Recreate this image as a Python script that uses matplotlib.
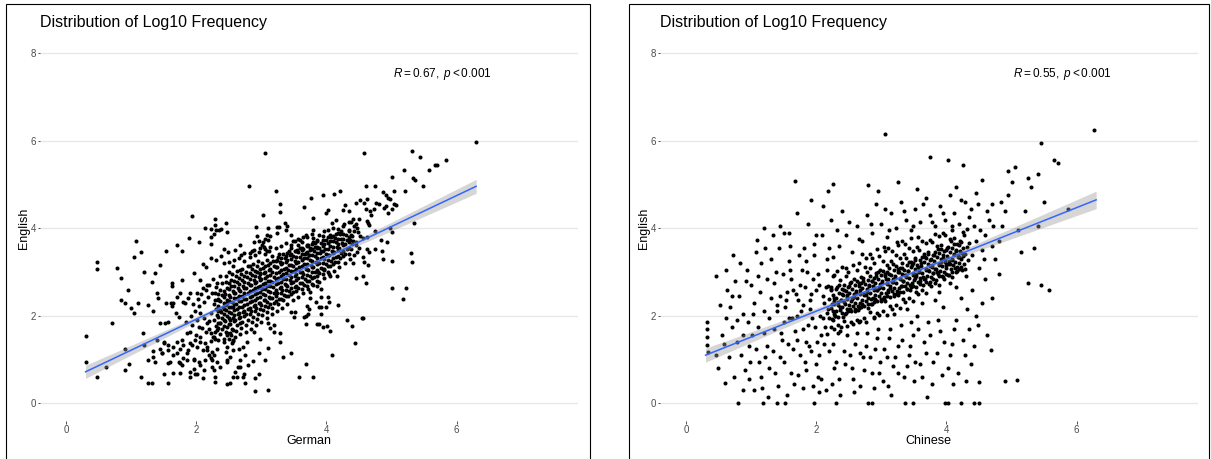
import numpy as np
import matplotlib.pyplot as plt
from matplotlib.patches import Rectangle

plt.rcParams['font.family'] = ['Liberation Sans', 'DejaVu Sans']
plt.rcParams['mathtext.fontset'] = 'custom'
plt.rcParams['mathtext.rm'] = 'Liberation Sans'
plt.rcParams['mathtext.it'] = 'Liberation Sans:italic'

# ---- German vs English (log10 frequency) ----
de_outer = [
    (1.93, 4.27), (2.29, 4.22), (2.14, 4.01), (2.23, 3.98), (2.30, 3.96), (2.29, 4.07), (2.35, 3.97),
    (2.22, 3.81), (2.28, 3.87), (1.89, 3.77), (2.04, 3.69), (2.23, 3.65), (1.08, 3.72), (1.15, 3.46),
    (1.04, 3.35), (1.70, 3.61), (1.78, 3.48), (1.53, 3.49), (1.45, 3.17), (2.11, 3.19), (2.15, 3.11),
    (2.23, 3.31), (2.31, 3.27), (0.48, 3.23), (0.48, 3.07), (0.78, 3.09), (0.85, 2.86), (0.95, 2.59),
    (0.84, 2.36), (0.91, 2.29), (1.00, 2.17), (1.04, 2.07), (1.11, 2.29), (1.20, 2.99), (1.32, 2.77),
    (1.37, 2.98), (1.26, 2.25), (1.33, 2.12), (1.40, 2.52), (1.42, 2.40), (1.53, 2.30), (1.63, 2.76),
    (1.65, 2.30), (1.78, 2.82), (1.80, 2.32), (1.69, 2.06), (1.74, 1.98), (1.97, 2.97), (1.61, 2.29),
    (1.63, 2.22), (1.63, 2.68), (1.75, 2.52), (1.71, 2.42), (1.83, 2.29), (1.88, 2.40), (1.91, 2.52),
    (2.06, 2.82), (2.10, 2.63), (2.01, 2.52), (2.16, 2.71), (2.24, 2.52), (2.32, 2.74), (2.37, 2.90),
    (2.29, 2.36), (2.42, 3.20), (2.50, 3.01), (2.57, 3.13), (2.68, 3.05), (2.83, 3.13), (2.98, 2.97),
    (2.88, 3.51), (3.04, 3.58), (3.14, 3.82), (2.93, 3.82), (3.09, 3.47), (3.24, 3.28), (3.40, 3.43),
    (3.55, 3.51), (3.70, 3.62), (3.80, 3.78), (3.68, 3.85), (3.86, 3.55), (3.24, 3.89), (3.40, 4.06),
    (3.06, 5.71), (2.81, 4.96), (3.22, 4.86), (3.28, 4.55), (3.28, 4.38), (3.02, 4.30), (3.77, 4.70),
    (3.94, 4.75), (4.11, 4.79), (4.21, 4.85), (3.66, 4.48), (4.28, 4.54), (4.02, 4.42), (4.00, 4.34),
    (3.80, 4.23), (4.25, 4.42), (4.34, 4.39), (4.15, 4.20), (4.09, 4.13), (4.27, 4.10), (4.34, 4.14),
    (2.45, 4.11), (2.38, 3.99), (2.48, 3.91), (2.92, 4.03), (3.10, 4.01), (3.24, 4.04), (3.27, 4.04),
    (3.36, 4.13), (3.38, 3.95), (3.79, 3.97), (3.46, 3.85), (3.60, 3.74), (3.64, 3.80), (3.89, 3.84),
    (3.96, 3.93), (4.06, 3.85), (4.15, 3.88), (4.22, 3.93), (3.09, 3.85), (3.06, 3.76), (3.03, 3.68),
    (3.10, 3.74), (2.88, 3.69), (2.97, 3.72), (2.98, 3.56), (3.01, 3.62), (2.68, 3.61), (2.60, 3.51),
    (2.42, 3.53), (2.49, 3.45), (2.86, 3.49), (2.83, 3.44), (2.69, 3.39), (2.73, 3.43), (2.38, 3.36),
    (3.12, 3.49), (3.05, 3.41), (3.27, 3.42), (3.45, 3.62), (3.46, 3.55), (3.42, 3.49), (3.52, 3.70),
    (3.57, 3.62), (3.63, 3.51), (3.75, 3.55), (3.68, 3.43), (3.73, 3.39), (3.83, 3.66), (3.91, 3.47),
    (6.30, 5.98), (4.58, 5.71), (5.32, 5.76), (5.44, 5.64), (5.83, 5.57), (5.67, 5.45), (5.70, 5.45),
    (5.58, 5.33), (5.19, 5.34), (5.01, 5.18), (5.33, 5.14), (5.36, 5.11), (5.48, 4.96), (4.61, 4.97),
    (4.74, 4.97), (4.87, 4.84), (5.04, 4.85), (5.21, 4.85), (4.92, 4.75), (4.95, 4.69), (4.98, 4.67),
    (4.52, 4.65), (4.57, 4.58), (4.63, 4.67), (4.46, 4.58), (4.76, 4.58), (4.80, 4.56), (4.61, 4.44),
    (4.67, 4.40), (4.68, 4.31), (4.73, 4.45), (4.88, 4.46), (4.92, 4.50), (5.04, 4.55), (5.07, 4.54),
    (5.00, 4.44), (4.95, 4.34), (4.38, 4.14), (4.46, 4.10), (4.41, 4.21), (4.50, 4.21), (4.47, 4.01),
    (4.62, 4.17), (4.64, 4.12), (4.66, 4.08), (4.42, 3.93), (4.38, 3.85), (4.52, 3.82), (4.56, 3.78),
    (4.63, 3.79), (4.74, 3.93), (4.98, 4.01), (5.01, 3.92), (5.34, 4.13), (4.84, 3.74), (4.93, 3.68),
    (4.41, 3.72), (4.46, 3.69), (4.63, 3.53), (4.65, 3.46), (4.75, 3.53), (4.86, 3.49), (4.41, 3.20),
    (4.56, 3.34), (4.57, 3.24), (4.64, 3.16), (4.87, 3.30), (5.01, 3.26), (5.30, 3.43), (5.31, 3.23),
    (4.45, 2.87), (4.56, 2.91), (4.61, 2.75), (5.00, 2.64), (5.23, 2.64), (5.18, 2.39), (4.56, 1.95),
    (4.40, 1.77), (4.44, 1.37), (3.79, 0.59), (3.69, 0.89), (4.09, 1.11), (4.05, 1.65), (4.01, 1.77),
    (3.94, 1.74), (3.88, 1.81), (3.68, 1.81), (4.31, 1.90), (4.55, 1.96), (3.69, 2.00), (3.71, 2.03),
    (3.92, 2.05), (3.88, 2.19), (4.00, 2.19), (4.04, 2.32), (4.18, 2.24), (3.84, 2.32), (3.70, 2.23),
    (3.58, 0.59), (3.10, 0.30), (2.90, 0.28), (2.75, 0.47), (2.52, 0.47), (2.63, 0.59), (2.73, 0.68),
    (2.72, 0.60), (2.96, 0.68), (2.90, 0.57), (2.80, 0.87), (2.87, 0.97), (3.05, 0.99), (2.48, 1.00),
    (2.47, 0.95), (2.64, 0.82), (2.96, 1.14), (2.75, 1.10), (3.10, 1.27), (3.34, 1.06), (3.46, 1.14),
    (3.28, 1.41), (3.19, 1.64), (3.28, 1.61), (3.14, 1.71), (3.20, 1.79), (3.11, 1.83), (2.98, 1.47),
    (2.88, 1.64), (2.78, 1.41), (2.65, 1.25), (2.72, 1.29), (2.45, 1.18), (2.55, 1.37), (2.57, 1.43),
    (2.42, 1.48), (2.47, 1.56), (2.52, 1.60), (3.86, 1.81), (3.65, 1.98), (3.50, 1.98), (3.45, 2.09),
    (3.52, 2.09), (3.73, 2.15), (3.91, 2.19), (4.02, 2.44), (3.91, 2.44), (3.74, 2.40), (3.75, 2.55),
    (3.86, 2.67), (3.91, 2.61), (4.06, 2.91), (4.16, 2.91), (3.87, 2.99), (3.96, 3.05),
    (0.30, 1.54), (0.30, 0.95), (0.48, 0.59), (0.61, 0.83), (0.70, 1.84), (0.91, 1.25), (0.91, 0.77),
    (0.96, 0.89), (1.18, 1.61), (1.15, 0.59), (1.26, 0.47), (1.32, 0.47), (1.20, 1.33), (1.40, 1.44),
    (1.26, 0.99), (1.34, 1.05), (1.37, 0.95), (1.33, 1.20), (1.50, 1.41), (1.56, 1.33), (1.45, 1.23),
    (1.47, 1.15), (1.51, 0.68), (1.57, 0.47), (1.64, 0.70), (1.75, 0.70), (1.91, 0.59), (1.98, 0.68),
    (1.97, 0.79), (2.12, 0.77), (2.29, 0.59), (2.24, 0.83), (1.57, 0.92), (1.73, 0.95), (1.78, 0.87),
    (1.86, 0.99), (1.96, 1.02), (2.04, 0.95), (2.14, 1.00), (2.19, 1.10), (2.24, 0.99), (1.70, 1.14),
    (1.75, 1.23), (1.80, 1.33), (1.88, 1.22), (1.93, 1.33), (2.01, 1.29), (1.98, 1.44), (2.06, 1.41),
    (2.11, 1.22), (2.16, 1.29), (2.24, 1.18), (2.32, 1.25), (2.22, 1.43), (2.29, 1.48), (1.45, 1.84),
    (1.52, 1.84), (1.57, 1.86), (1.50, 1.37), (1.48, 1.14), (1.57, 1.22), (1.65, 1.29), (1.70, 1.41),
    (1.65, 1.10), (1.60, 0.95), (1.75, 0.91), (1.80, 1.03), (1.86, 1.14), (1.91, 1.37), (1.78, 1.44),
    (1.86, 1.60), (1.93, 1.79), (2.01, 1.90), (2.09, 1.71), (2.06, 1.52), (2.14, 1.37), (2.16, 1.22),
    (2.27, 1.10), (2.22, 1.03), (2.32, 0.95), (2.37, 0.83), (2.27, 0.76), (2.06, 0.87), (1.96, 0.99),
    (1.91, 0.72), (2.01, 0.68), (2.11, 0.57), (2.29, 0.49), (2.47, 0.45), (2.57, 0.60), (2.60, 0.72),
    (2.68, 0.83), (2.68, 0.99), (2.52, 1.06), (2.57, 1.22), (2.47, 1.29), (2.57, 1.44), (2.47, 1.60),
    (2.57, 1.67), (2.68, 1.83), (2.52, 1.90), (2.37, 1.83), (2.32, 1.67), (2.27, 1.52), (2.22, 1.60),
    (2.16, 1.83), (2.06, 2.06), (2.22, 2.06), (2.37, 2.13), (2.47, 2.29), (2.57, 2.21),
]
de_core = [
    (2.29, 1.64), (2.31, 1.77), (2.28, 1.90), (2.32, 2.02), (2.30, 2.15), (2.27, 2.27), (2.33, 2.38), (2.29, 2.52), (2.31, 2.66),
    (2.37, 1.58), (2.39, 1.70), (2.36, 1.83), (2.40, 1.96), (2.38, 2.09), (2.41, 2.21), (2.37, 2.34), (2.39, 2.47), (2.36, 2.60), (2.40, 2.74),
    (2.45, 1.62), (2.47, 1.75), (2.44, 1.88), (2.48, 2.00), (2.46, 2.13), (2.45, 2.25), (2.47, 2.37), (2.44, 2.50), (2.48, 2.63), (2.46, 2.78), (2.45, 2.90),
    (2.53, 1.57), (2.55, 1.69), (2.52, 1.82), (2.56, 1.94), (2.54, 2.06), (2.53, 2.19), (2.55, 2.31), (2.52, 2.44), (2.56, 2.56), (2.54, 2.69), (2.53, 2.82), (2.55, 2.96),
    (2.61, 1.66), (2.63, 1.79), (2.60, 1.91), (2.64, 2.03), (2.62, 2.15), (2.61, 2.27), (2.63, 2.40), (2.60, 2.52), (2.64, 2.64), (2.62, 2.77), (2.61, 2.90), (2.63, 3.02),
    (2.69, 1.72), (2.71, 1.85), (2.68, 1.97), (2.72, 2.09), (2.70, 2.21), (2.69, 2.33), (2.71, 2.45), (2.68, 2.57), (2.72, 2.69), (2.70, 2.82), (2.69, 2.95), (2.71, 3.08),
    (2.77, 1.78), (2.79, 1.91), (2.76, 2.03), (2.80, 2.15), (2.78, 2.27), (2.77, 2.39), (2.79, 2.51), (2.76, 2.63), (2.80, 2.75), (2.78, 2.88), (2.77, 3.01), (2.79, 3.13),
    (2.85, 1.86), (2.87, 1.98), (2.84, 2.10), (2.88, 2.22), (2.86, 2.34), (2.85, 2.46), (2.87, 2.58), (2.84, 2.70), (2.88, 2.82), (2.86, 2.94), (2.85, 3.07), (2.87, 3.19),
    (2.93, 1.93), (2.95, 2.05), (2.92, 2.17), (2.96, 2.29), (2.94, 2.41), (2.93, 2.53), (2.95, 2.65), (2.92, 2.77), (2.96, 2.89), (2.94, 3.01), (2.93, 3.13), (2.95, 3.25),
    (3.01, 2.01), (3.03, 2.13), (3.00, 2.25), (3.04, 2.37), (3.02, 2.49), (3.01, 2.61), (3.03, 2.73), (3.00, 2.85), (3.04, 2.97), (3.02, 3.09), (3.01, 3.21),
    (3.09, 2.08), (3.11, 2.20), (3.08, 2.32), (3.12, 2.44), (3.10, 2.56), (3.09, 2.68), (3.11, 2.80), (3.08, 2.92), (3.12, 3.04), (3.10, 3.16), (3.09, 3.28),
    (3.17, 2.17), (3.19, 2.29), (3.16, 2.41), (3.20, 2.53), (3.18, 2.65), (3.17, 2.77), (3.19, 2.89), (3.16, 3.01), (3.20, 3.13), (3.18, 3.25), (3.17, 3.36),
    (3.25, 2.27), (3.27, 2.39), (3.24, 2.51), (3.28, 2.63), (3.26, 2.75), (3.25, 2.87), (3.27, 2.99), (3.24, 3.11), (3.28, 3.22), (3.26, 3.34),
    (3.33, 2.36), (3.35, 2.48), (3.32, 2.60), (3.36, 2.72), (3.34, 2.84), (3.33, 2.96), (3.35, 3.08), (3.32, 3.20), (3.36, 3.31), (3.34, 3.42),
    (3.41, 2.45), (3.43, 2.57), (3.40, 2.69), (3.44, 2.81), (3.42, 2.93), (3.41, 3.05), (3.43, 3.17), (3.40, 3.28), (3.44, 3.39),
    (3.49, 2.54), (3.51, 2.66), (3.48, 2.78), (3.52, 2.90), (3.50, 3.02), (3.49, 3.14), (3.51, 3.26), (3.48, 3.37), (3.52, 3.48),
    (3.57, 2.63), (3.59, 2.75), (3.56, 2.87), (3.60, 2.99), (3.58, 3.11), (3.57, 3.23), (3.59, 3.34), (3.56, 3.45), (3.60, 3.55),
    (3.65, 2.71), (3.67, 2.83), (3.64, 2.95), (3.68, 3.07), (3.66, 3.19), (3.65, 3.31), (3.67, 3.42), (3.64, 3.53),
    (3.73, 2.80), (3.75, 2.92), (3.72, 3.04), (3.76, 3.16), (3.74, 3.28), (3.73, 3.39), (3.75, 3.50), (3.72, 3.61),
    (3.81, 2.88), (3.83, 3.00), (3.80, 3.12), (3.84, 3.24), (3.82, 3.36), (3.81, 3.47), (3.83, 3.58), (3.80, 3.68),
    (3.89, 2.97), (3.91, 3.09), (3.88, 3.21), (3.92, 3.33), (3.90, 3.44), (3.89, 3.55), (3.91, 3.66),
    (3.97, 3.06), (3.99, 3.18), (3.96, 3.30), (4.00, 3.41), (3.98, 3.52), (3.97, 3.63), (3.99, 3.74),
    (4.05, 3.14), (4.07, 3.26), (4.04, 3.38), (4.08, 3.49), (4.06, 3.60), (4.05, 3.71), (4.07, 3.81),
    (4.13, 3.23), (4.15, 3.35), (4.12, 3.46), (4.16, 3.57), (4.14, 3.68), (4.13, 3.78),
    (4.21, 3.33), (4.23, 3.44), (4.20, 3.55), (4.24, 3.66), (4.22, 3.76), (4.21, 3.86),
    (4.29, 3.42), (4.31, 3.53), (4.28, 3.64), (4.32, 3.74), (4.30, 3.84),
    (4.37, 3.52), (4.39, 3.63), (4.36, 3.73), (4.40, 3.83),
    (2.50, 3.22), (2.58, 3.28), (2.66, 3.33), (2.74, 3.26), (2.82, 3.35), (2.90, 3.40), (2.97, 3.45),
    (3.05, 3.52), (3.14, 3.58), (3.22, 3.55), (3.30, 3.60), (3.38, 3.66), (3.48, 3.70), (3.56, 3.76),
    (3.62, 3.69), (3.70, 3.80), (3.78, 3.86), (3.86, 3.74), (3.94, 3.83), (4.02, 3.95), (4.10, 4.00),
    (4.18, 3.98), (4.26, 4.05), (4.35, 3.96), (4.42, 4.05), (4.48, 3.92), (4.45, 3.62), (4.50, 3.55),
    (4.47, 3.45), (2.20, 1.70), (2.26, 1.52), (2.34, 1.45), (2.42, 1.40), (2.50, 1.47), (2.60, 1.52),
    (2.68, 1.58), (2.76, 1.62), (2.84, 1.70), (2.92, 1.78), (3.00, 1.86), (3.08, 1.95), (3.16, 2.03),
    (3.24, 2.10), (3.32, 2.18), (3.40, 2.27), (3.48, 2.36), (3.56, 2.44), (3.64, 2.52), (3.72, 2.61),
    (3.80, 2.70), (3.88, 2.78), (3.96, 2.86), (4.04, 2.95), (4.12, 3.03), (4.20, 3.12), (4.28, 3.20),
    (4.36, 3.30), (4.43, 3.38), (1.85, 1.85), (1.92, 2.00), (1.98, 2.12), (2.05, 2.22), (2.12, 2.31),
    (2.18, 2.42), (2.08, 2.50), (2.15, 2.60), (2.20, 2.70), (2.25, 2.85), (2.02, 2.38), (1.95, 2.27),
    (2.12, 1.95), (2.20, 1.88), (2.05, 1.75), (2.15, 1.62), (1.90, 1.62), (2.00, 1.55),
]
# second, interleaved layer of the solid black centre of the German cloud
de_centre = [
    (2.34, 1.71), (2.34, 1.84), (2.34, 1.97), (2.34, 2.10), (2.34, 2.23), (2.34, 2.36), (2.34, 2.50),
    (2.42, 1.77), (2.42, 1.90), (2.42, 2.03), (2.42, 2.16), (2.42, 2.29), (2.42, 2.42), (2.42, 2.56),
    (2.50, 1.82), (2.50, 1.95), (2.50, 2.08), (2.50, 2.21), (2.50, 2.34), (2.50, 2.47), (2.50, 2.61), (2.50, 2.74),
    (2.58, 1.88), (2.58, 2.01), (2.58, 2.14), (2.58, 2.27), (2.58, 2.40), (2.58, 2.53), (2.58, 2.67), (2.58, 2.80),
    (2.66, 1.94), (2.66, 2.07), (2.66, 2.20), (2.66, 2.33), (2.66, 2.46), (2.66, 2.59), (2.66, 2.73), (2.66, 2.86),
    (2.74, 1.99), (2.74, 2.12), (2.74, 2.25), (2.74, 2.38), (2.74, 2.51), (2.74, 2.64), (2.74, 2.78), (2.74, 2.91),
    (2.82, 2.05), (2.82, 2.18), (2.82, 2.31), (2.82, 2.44), (2.82, 2.57), (2.82, 2.70), (2.82, 2.84), (2.82, 2.97),
    (2.90, 2.11), (2.90, 2.24), (2.90, 2.37), (2.90, 2.50), (2.90, 2.63), (2.90, 2.76), (2.90, 2.90), (2.90, 3.03),
    (2.98, 2.16), (2.98, 2.29), (2.98, 2.42), (2.98, 2.55), (2.98, 2.68), (2.98, 2.81), (2.98, 2.95), (2.98, 3.08),
    (3.06, 2.22), (3.06, 2.35), (3.06, 2.48), (3.06, 2.61), (3.06, 2.74), (3.06, 2.87), (3.06, 3.01), (3.06, 3.14),
    (3.14, 2.28), (3.14, 2.41), (3.14, 2.54), (3.14, 2.67), (3.14, 2.80), (3.14, 2.93), (3.14, 3.07), (3.14, 3.20),
    (3.22, 2.33), (3.22, 2.46), (3.22, 2.59), (3.22, 2.72), (3.22, 2.85), (3.22, 2.98), (3.22, 3.12), (3.22, 3.25),
    (3.30, 2.39), (3.30, 2.52), (3.30, 2.65), (3.30, 2.78), (3.30, 2.91), (3.30, 3.04), (3.30, 3.18), (3.30, 3.31),
    (3.38, 2.45), (3.38, 2.58), (3.38, 2.71), (3.38, 2.84), (3.38, 2.97), (3.38, 3.10), (3.38, 3.24), (3.38, 3.37),
    (3.46, 2.50), (3.46, 2.63), (3.46, 2.76), (3.46, 2.89), (3.46, 3.02), (3.46, 3.15), (3.46, 3.29), (3.46, 3.42),
    (3.54, 2.56), (3.54, 2.69), (3.54, 2.82), (3.54, 2.95), (3.54, 3.08), (3.54, 3.21), (3.54, 3.35), (3.54, 3.48),
    (3.62, 2.62), (3.62, 2.75), (3.62, 2.88), (3.62, 3.01), (3.62, 3.14), (3.62, 3.27), (3.62, 3.41), (3.62, 3.54),
    (3.70, 2.67), (3.70, 2.80), (3.70, 2.93), (3.70, 3.06), (3.70, 3.19), (3.70, 3.32), (3.70, 3.46), (3.70, 3.59),
    (3.78, 2.73), (3.78, 2.86), (3.78, 2.99), (3.78, 3.12), (3.78, 3.25), (3.78, 3.38), (3.78, 3.52), (3.78, 3.65),
    (3.86, 2.79), (3.86, 2.92), (3.86, 3.05), (3.86, 3.18), (3.86, 3.31), (3.86, 3.44), (3.86, 3.58), (3.86, 3.71),
    (3.94, 2.95), (3.94, 3.08), (3.94, 3.21), (3.94, 3.34), (3.94, 3.47), (3.94, 3.60), (3.94, 3.73),
    (4.02, 3.01), (4.02, 3.14), (4.02, 3.27), (4.02, 3.40), (4.02, 3.53), (4.02, 3.66), (4.02, 3.79),
    (4.10, 3.18), (4.10, 3.31), (4.10, 3.44), (4.10, 3.57), (4.10, 3.70), (4.10, 3.83),
    (4.18, 3.24), (4.18, 3.37), (4.18, 3.50), (4.18, 3.63), (4.18, 3.76), (4.18, 3.89),
    (4.26, 3.36), (4.26, 3.49), (4.26, 3.62), (4.26, 3.75), (4.26, 3.88),
    (4.34, 3.42), (4.34, 3.55), (4.34, 3.68), (4.34, 3.81), (4.34, 3.93),
]
de_fit_x = [0.30, 6.30]
de_fit_y = [0.72, 4.96]
de_band_x = [0.30, 1.00, 2.00, 3.00, 4.00, 5.00, 6.30]
de_band_half = [0.15, 0.11, 0.06, 0.035, 0.05, 0.10, 0.16]
de_label = r'$R = 0.67,\ p < 0.001$'

# ---- Chinese vs English ----
zh_outer = [
    (0.32, 1.86), (0.32, 1.70), (0.32, 1.51), (0.32, 1.33), (0.33, 1.17), (0.46, 1.10), (0.49, 0.80),
    (0.60, 0.46), (0.46, 2.91), (0.63, 2.59), (0.72, 3.39), (1.09, 3.74), (0.94, 3.05), (0.55, 1.55),
    (0.62, 1.95), (0.70, 1.75), (0.78, 1.40), (0.85, 1.10), (0.90, 0.75), (0.97, 0.55), (1.05, 0.30),
    (0.80, 0.00), (0.68, 2.20), (0.82, 2.45), (0.88, 2.05), (0.95, 1.85), (1.02, 1.55), (1.08, 1.25),
    (1.12, 0.95), (1.15, 0.60), (1.18, 0.00), (1.00, 2.70), (1.10, 2.90), (1.15, 3.20), (1.05, 2.30),
    (1.20, 2.10), (0.75, 2.80), (1.20, 1.60), (1.25, 1.30), (1.28, 0.80), (1.22, 3.55),
    (1.30, 2.40), (1.35, 2.75), (1.38, 3.00), (1.40, 0.00), (1.42, 0.40), (1.45, 1.05), (1.48, 1.45),
    (1.50, 1.85), (1.52, 2.20), (1.55, 2.55), (1.58, 3.25), (1.60, 3.60), (1.62, 0.70), (1.65, 1.25),
    (1.68, 1.65), (1.68, 5.07), (1.70, 2.00), (1.72, 2.35), (1.75, 2.70), (1.78, 3.05), (1.80, 0.35),
    (1.82, 0.95), (1.85, 1.40), (1.87, 1.80), (1.90, 2.15), (1.92, 2.50), (1.95, 2.85), (1.97, 3.40),
    (2.00, 3.85), (2.02, 0.60), (2.05, 1.10), (2.07, 1.55), (2.10, 1.95), (2.12, 2.30), (2.15, 2.65),
    (2.17, 3.05), (2.20, 3.55), (2.22, 4.20), (1.50, 3.90), (1.35, 1.70), (1.40, 2.10), (1.62, 2.85),
    (1.88, 4.10), (2.10, 4.50), (1.75, 1.10), (1.92, 1.20), (2.00, 0.90), (2.15, 0.30), (1.55, 0.20),
    (1.45, 2.45), (1.58, 1.95), (1.65, 2.60), (1.80, 2.25), (1.85, 3.25), (1.98, 1.75), (2.05, 2.70),
    (2.12, 1.35), (1.72, 0.65), (1.95, 0.40),
    (0.52, 2.25), (0.58, 1.35), (0.66, 1.05), (0.70, 2.45), (0.74, 0.60), (0.79, 1.90), (0.83, 3.20),
    (0.87, 1.55), (0.92, 2.80), (0.96, 1.30), (0.99, 0.95), (1.03, 2.05), (1.07, 3.45), (1.11, 1.75),
    (1.14, 2.55), (1.17, 0.35), (1.21, 1.05), (1.24, 2.85), (1.27, 1.95), (1.31, 3.30), (1.33, 1.20),
    (1.36, 0.70), (1.39, 2.25), (1.43, 3.55), (1.46, 1.60), (1.49, 2.95), (1.51, 0.95), (1.54, 2.35),
    (1.57, 1.35), (1.60, 3.05), (1.63, 1.95), (1.66, 0.45), (1.69, 2.50), (1.71, 1.45), (1.74, 3.40),
    (1.77, 2.10), (1.79, 1.70), (1.82, 2.65), (1.84, 0.75), (1.86, 3.00), (1.89, 1.30), (1.91, 2.35),
    (1.94, 1.95), (1.96, 3.65), (1.99, 2.60), (2.01, 1.40), (2.03, 2.95), (2.06, 2.00), (2.08, 0.55),
    (2.11, 2.45), (2.13, 1.75), (2.16, 3.30), (2.18, 2.15), (2.20, 1.20), (2.23, 2.65), (2.25, 1.90),
    (2.27, 0.80), (1.26, 0.15), (1.52, 0.00), (1.97, 0.00), (2.05, 0.25), (1.44, 4.05), (1.71, 4.35),
    (1.92, 4.65), (2.18, 4.85), (1.33, 3.85), (0.88, 0.30), (0.62, 3.05), (1.19, 4.00), (1.58, 3.90),
    (1.81, 3.55), (2.09, 3.85),
    (2.25, 3.35), (2.35, 3.60), (2.45, 3.85), (2.55, 3.45), (2.62, 4.05), (2.70, 3.70), (2.78, 4.30),
    (2.85, 3.90), (2.92, 4.55), (3.00, 4.10), (3.08, 3.80), (3.15, 4.35), (3.22, 4.00), (3.30, 4.60),
    (3.38, 4.20), (3.45, 3.95), (3.52, 4.45), (3.60, 4.15), (3.68, 4.70), (3.75, 4.30), (3.82, 4.05),
    (3.90, 4.50), (3.98, 4.20), (4.05, 4.75), (4.12, 4.35), (4.20, 4.10), (4.28, 4.60), (4.35, 4.25),
    (4.42, 4.05), (4.48, 4.55), (2.40, 4.40), (2.95, 4.85), (3.55, 4.90), (3.25, 5.05), (4.15, 4.95),
    (2.32, 3.95), (2.50, 4.15), (2.66, 3.75), (2.84, 4.10), (3.05, 4.45), (3.12, 3.95), (3.35, 4.40),
    (3.48, 4.05), (3.64, 4.55), (3.78, 4.15), (3.95, 4.35), (4.08, 4.05), (4.22, 4.65), (4.38, 4.45),
    (4.52, 3.95), (4.62, 4.40), (4.72, 4.05), (4.84, 4.60), (4.45, 3.70), (4.58, 3.30), (4.70, 3.60),
    (4.40, 3.40),
    (2.25, 1.35), (2.30, 0.95), (2.35, 0.55), (2.42, 1.20), (2.48, 1.55), (2.55, 0.80), (2.60, 1.35),
    (2.68, 0.40), (2.72, 1.05), (2.78, 1.60), (2.85, 0.70), (2.90, 1.25), (2.95, 1.70), (3.02, 0.50),
    (3.08, 1.05), (3.12, 1.50), (3.18, 0.85), (3.25, 1.30), (3.30, 1.80), (3.35, 0.60), (3.42, 1.10),
    (3.48, 1.55), (3.55, 2.00), (3.60, 0.90), (3.65, 1.40), (3.72, 1.85), (3.78, 0.45), (3.85, 1.15),
    (3.90, 1.65), (3.95, 2.20), (4.02, 0.80), (4.08, 1.35), (4.15, 1.90), (4.22, 2.40), (4.28, 1.10),
    (4.35, 1.70), (4.40, 2.60), (4.45, 2.00), (2.80, 0.00), (2.86, 0.00), (3.37, 0.00), (3.48, 0.00),
    (3.98, 0.00), (4.02, 0.00), (4.23, 0.00), (4.43, 0.00), (2.31, 0.00), (2.58, 0.25), (3.15, 0.20),
    (3.70, 0.15), (4.10, 0.45), (3.50, 0.50), (2.98, 0.95), (3.45, 1.85), (3.82, 2.35), (4.15, 2.65),
    (2.38, 1.75), (2.65, 1.85), (2.88, 1.95), (3.20, 2.05), (3.40, 2.15), (3.62, 2.30), (3.88, 2.55),
    (4.05, 2.75), (4.30, 2.90),
    (2.24, 0.45), (2.33, 1.60), (2.37, 0.20), (2.44, 0.90), (2.52, 1.10), (2.57, 0.55), (2.63, 1.60),
    (2.67, 1.15), (2.74, 0.75), (2.77, 1.30), (2.83, 1.05), (2.88, 0.35), (2.93, 1.50), (2.97, 0.70),
    (3.04, 1.25), (3.10, 0.40), (3.14, 1.70), (3.21, 1.05), (3.26, 0.70), (3.32, 1.45), (3.39, 0.85),
    (3.44, 1.30), (3.52, 0.95), (3.57, 1.70), (3.63, 0.60), (3.68, 1.15), (3.74, 1.55), (3.80, 0.95),
    (3.87, 1.90), (3.93, 0.65), (3.97, 1.40), (4.05, 1.10), (4.12, 1.70), (4.18, 0.70), (4.25, 1.45),
    (4.32, 2.15), (4.38, 0.90), (4.42, 1.30), (4.48, 1.80), (4.55, 2.30), (4.62, 1.55),
    (4.50, 3.10), (4.55, 3.50), (4.60, 3.85), (4.65, 4.20), (4.70, 4.55), (4.75, 3.30), (4.80, 3.70),
    (4.85, 4.05), (4.90, 4.40), (4.95, 4.75), (5.00, 5.05), (4.60, 2.85), (4.70, 2.40), (4.68, 1.22),
    (4.90, 0.50), (5.08, 0.53), (5.10, 3.95), (5.20, 4.40), (5.25, 2.75), (5.35, 3.55), (5.45, 2.71),
    (5.57, 2.59), (5.40, 4.05), (5.50, 4.60), (4.94, 5.32), (5.06, 5.39), (5.26, 5.16), (5.40, 5.23),
    (5.45, 5.96), (5.65, 5.55), (5.72, 5.50), (6.26, 6.24), (5.86, 4.43), (5.30, 4.95), (4.55, 5.10),
    (4.45, 4.80), (5.15, 3.45), (4.80, 2.95), (4.50, 0.00), (4.30, 0.50), (4.50, 0.48), (3.05, 6.15),
    (3.75, 5.62), (4.03, 5.57), (4.25, 5.44), (2.80, 5.00), (2.26, 5.02),
]
zh_core = [
    (2.17, 1.58), (2.23, 1.74), (2.20, 1.96), (2.16, 2.07), (2.24, 2.27), (2.19, 2.38), (2.22, 2.61), (2.18, 2.69), (2.25, 2.90),
    (2.27, 1.69), (2.33, 1.79), (2.29, 2.00), (2.26, 2.10), (2.34, 2.31), (2.28, 2.41), (2.31, 2.62), (2.35, 2.71), (2.27, 2.93), (2.32, 3.02),
    (2.37, 1.66), (2.43, 1.88), (2.41, 1.97), (2.36, 2.19), (2.44, 2.28), (2.39, 2.50), (2.42, 2.60), (2.37, 2.81), (2.45, 2.90), (2.40, 3.12),
    (2.48, 1.76), (2.53, 1.85), (2.46, 2.07), (2.52, 2.16), (2.55, 2.38), (2.47, 2.47), (2.51, 2.69), (2.54, 2.78), (2.49, 3.00), (2.46, 3.09),
    (2.57, 1.81), (2.63, 1.91), (2.59, 2.12), (2.64, 2.22), (2.56, 2.43), (2.61, 2.53), (2.65, 2.74), (2.58, 2.84), (2.62, 3.05), (2.57, 3.15),
    (2.68, 1.87), (2.73, 1.96), (2.66, 2.18), (2.71, 2.27), (2.74, 2.49), (2.67, 2.58), (2.72, 2.80), (2.69, 2.89), (2.75, 3.11), (2.66, 3.20), (2.71, 3.41),
    (2.77, 1.86), (2.83, 2.08), (2.79, 2.17), (2.84, 2.39), (2.76, 2.48), (2.81, 2.70), (2.85, 2.79), (2.78, 3.01), (2.82, 3.10), (2.76, 3.32), (2.83, 3.41),
    (2.88, 1.97), (2.93, 2.07), (2.86, 2.28), (2.91, 2.38), (2.94, 2.59), (2.87, 2.69), (2.92, 2.90), (2.95, 3.00), (2.89, 3.21), (2.86, 3.31), (2.93, 3.52),
    (2.97, 2.02), (3.03, 2.12), (2.99, 2.33), (3.04, 2.43), (2.96, 2.64), (3.01, 2.74), (3.05, 2.95), (2.98, 3.05), (3.02, 3.26), (2.97, 3.36), (3.04, 3.57),
    (3.08, 2.02), (3.13, 2.23), (3.06, 2.33), (3.11, 2.54), (3.14, 2.64), (3.07, 2.85), (3.12, 2.95), (3.09, 3.16), (3.15, 3.26), (3.06, 3.47), (3.11, 3.56),
    (3.17, 2.15), (3.23, 2.25), (3.19, 2.46), (3.24, 2.56), (3.16, 2.77), (3.21, 2.87), (3.25, 3.08), (3.18, 3.18), (3.22, 3.39), (3.17, 3.49), (3.24, 3.69),
    (3.28, 2.17), (3.33, 2.38), (3.26, 2.48), (3.31, 2.69), (3.34, 2.79), (3.27, 3.00), (3.32, 3.10), (3.29, 3.31), (3.35, 3.41), (3.26, 3.62), (3.31, 3.70),
    (3.37, 2.31), (3.43, 2.40), (3.39, 2.62), (3.44, 2.71), (3.36, 2.93), (3.41, 3.02), (3.45, 3.24), (3.38, 3.33), (3.42, 3.55), (3.37, 3.64),
    (3.48, 2.34), (3.53, 2.55), (3.46, 2.65), (3.51, 2.86), (3.54, 2.96), (3.47, 3.17), (3.52, 3.27), (3.49, 3.48), (3.55, 3.58), (3.46, 3.78),
    (3.57, 2.49), (3.63, 2.58), (3.59, 2.80), (3.64, 2.89), (3.56, 3.11), (3.61, 3.20), (3.65, 3.42), (3.58, 3.51), (3.62, 3.72), (3.57, 3.80),
    (3.68, 2.52), (3.73, 2.73), (3.66, 2.83), (3.71, 3.04), (3.74, 3.14), (3.67, 3.35), (3.72, 3.45), (3.69, 3.66), (3.75, 3.74),
    (3.77, 2.67), (3.83, 2.76), (3.79, 2.98), (3.84, 3.07), (3.76, 3.29), (3.81, 3.38), (3.85, 3.60), (3.78, 3.68), (3.82, 3.88),
    (3.88, 2.70), (3.93, 2.91), (3.86, 3.01), (3.91, 3.22), (3.94, 3.32), (3.87, 3.53), (3.92, 3.62), (3.89, 3.82), (3.95, 3.90),
    (3.97, 2.85), (4.03, 2.94), (3.99, 3.16), (4.04, 3.25), (3.96, 3.47), (4.01, 3.56), (4.05, 3.76), (3.98, 3.84),
    (4.08, 2.88), (4.13, 3.09), (4.06, 3.19), (4.11, 3.40), (4.14, 3.50), (4.07, 3.70), (4.12, 3.78), (4.09, 3.97),
    (4.17, 3.03), (4.23, 3.12), (4.19, 3.34), (4.24, 3.43), (4.16, 3.64), (4.21, 3.72), (4.25, 3.91),
    (4.28, 3.06), (4.33, 3.27), (4.26, 3.37), (4.31, 3.58), (4.34, 3.66), (4.27, 3.85), (4.32, 3.99),
]
# interleaved layers along the fitted line, where the Chinese cloud is solid black
zh_centre = [
    (2.24, 1.92), (2.27, 2.05), (2.23, 2.18), (2.28, 2.33), (2.25, 2.47), (2.22, 2.58),
    (2.34, 1.98), (2.37, 2.13), (2.33, 2.24), (2.38, 2.37), (2.35, 2.52), (2.32, 2.66),
    (2.44, 2.04), (2.47, 2.15), (2.43, 2.31), (2.48, 2.42), (2.45, 2.56), (2.42, 2.70),
    (2.54, 2.10), (2.57, 2.22), (2.53, 2.33), (2.58, 2.49), (2.55, 2.62), (2.52, 2.74),
    (2.64, 2.14), (2.67, 2.30), (2.63, 2.41), (2.68, 2.53), (2.65, 2.68), (2.62, 2.80),
    (2.74, 2.22), (2.77, 2.33), (2.73, 2.47), (2.78, 2.61), (2.75, 2.72), (2.72, 2.87),
    (2.84, 2.26), (2.87, 2.41), (2.83, 2.53), (2.88, 2.64), (2.85, 2.79), (2.82, 2.91),
    (2.94, 2.33), (2.97, 2.45), (2.93, 2.58), (2.98, 2.72), (2.95, 2.83), (2.92, 2.98),
    (3.04, 2.38), (3.07, 2.52), (3.03, 2.64), (3.08, 2.75), (3.05, 2.90), (3.02, 3.02),
    (3.14, 2.44), (3.17, 2.56), (3.13, 2.69), (3.18, 2.83), (3.15, 2.94), (3.12, 3.09),
    (3.24, 2.49), (3.27, 2.63), (3.23, 2.75), (3.28, 2.86), (3.25, 3.01), (3.22, 3.13),
    (3.34, 2.55), (3.37, 2.67), (3.33, 2.80), (3.38, 2.94), (3.35, 3.05), (3.32, 3.20),
    (3.44, 2.60), (3.47, 2.74), (3.43, 2.86), (3.48, 2.97), (3.45, 3.12), (3.42, 3.24),
    (3.54, 2.66), (3.57, 2.78), (3.53, 2.91), (3.58, 3.05), (3.55, 3.16), (3.52, 3.31),
    (3.64, 2.71), (3.67, 2.85), (3.63, 2.97), (3.68, 3.08), (3.65, 3.23), (3.62, 3.35),
    (3.74, 2.77), (3.77, 2.89), (3.73, 3.02), (3.78, 3.16), (3.75, 3.27), (3.72, 3.42),
    (3.84, 2.82), (3.87, 2.96), (3.83, 3.08), (3.88, 3.19), (3.85, 3.34), (3.82, 3.46),
    (3.94, 2.88), (3.97, 3.00), (3.93, 3.13), (3.98, 3.27), (3.95, 3.38), (3.92, 3.53),
    (4.04, 2.93), (4.07, 3.07), (4.03, 3.19), (4.08, 3.30), (4.05, 3.45), (4.02, 3.57),
    (4.14, 2.99), (4.17, 3.11), (4.13, 3.24), (4.18, 3.38), (4.15, 3.49), (4.12, 3.64),
    (4.24, 3.04), (4.27, 3.18), (4.23, 3.30), (4.28, 3.41), (4.25, 3.56), (4.22, 3.68),
]
zh_dense = [
    (2.29, 1.99), (2.30, 2.12), (2.28, 2.26), (2.31, 2.40),
    (2.39, 2.06), (2.40, 2.20), (2.38, 2.35), (2.41, 2.48), (2.39, 2.62),
    (2.49, 2.10), (2.50, 2.25), (2.48, 2.39), (2.51, 2.52), (2.49, 2.66),
    (2.59, 2.16), (2.60, 2.30), (2.58, 2.43), (2.61, 2.57), (2.59, 2.71),
    (2.69, 2.20), (2.70, 2.36), (2.68, 2.49), (2.71, 2.63), (2.69, 2.76),
    (2.79, 2.27), (2.80, 2.41), (2.78, 2.54), (2.81, 2.68), (2.79, 2.82),
    (2.89, 2.32), (2.90, 2.47), (2.88, 2.60), (2.91, 2.74), (2.89, 2.87),
    (2.99, 2.38), (3.00, 2.52), (2.98, 2.66), (3.01, 2.79), (2.99, 2.93),
    (3.09, 2.45), (3.10, 2.58), (3.08, 2.72), (3.11, 2.85), (3.09, 2.99),
    (3.19, 2.50), (3.20, 2.64), (3.18, 2.77), (3.21, 2.91), (3.19, 3.04),
    (3.29, 2.55), (3.30, 2.69), (3.28, 2.83), (3.31, 2.96), (3.29, 3.10),
    (3.39, 2.62), (3.40, 2.75), (3.38, 2.88), (3.41, 3.02), (3.39, 3.16),
    (3.49, 2.67), (3.50, 2.81), (3.48, 2.94), (3.51, 3.08), (3.49, 3.21),
    (3.59, 2.73), (3.60, 2.86), (3.58, 3.00), (3.61, 3.13), (3.59, 3.27),
    (3.69, 2.78), (3.70, 2.92), (3.68, 3.05), (3.71, 3.19), (3.69, 3.33),
    (3.79, 2.84), (3.80, 2.97), (3.78, 3.11), (3.81, 3.25), (3.79, 3.38),
    (3.89, 2.90), (3.90, 3.03), (3.88, 3.17), (3.91, 3.30), (3.89, 3.44),
    (3.99, 2.95), (4.00, 3.09), (3.98, 3.22), (4.01, 3.36), (3.99, 3.50),
    (4.09, 3.01), (4.10, 3.15), (4.08, 3.28), (4.11, 3.42), (4.09, 3.55),
    (4.19, 3.07), (4.20, 3.20), (4.18, 3.34), (4.21, 3.47), (4.19, 3.61),
]
zh_fit_x = [0.30, 6.30]
zh_fit_y = [1.10, 4.65]
zh_band_x = [0.30, 1.00, 2.00, 3.00, 4.00, 5.00, 6.30]
zh_band_half = [0.16, 0.12, 0.07, 0.04, 0.06, 0.12, 0.20]
zh_label = r'$R = 0.55,\ p < 0.001$'

W, H = 1211, 459
AX_W = 537.7          # panel width in pixels
AX_TOP, AX_BOT = 35.8, 420.8
fig = plt.figure(figsize=(W / 100, H / 100), dpi=100)


def panel(left_px, groups, fit_x, fit_y, band_x, band_half, label, xlabel):
    ax = fig.add_axes([left_px / W, 1 - AX_BOT / H, AX_W / W, (AX_BOT - AX_TOP) / H])
    pts = np.array([p for g in groups for p in g])
    ax.scatter(pts[:, 0], pts[:, 1], s=8.5, c='black', linewidths=0, zorder=2)
    bx = np.array(band_x)
    by = np.interp(bx, fit_x, fit_y)
    hw = np.array(band_half)
    ax.fill_between(bx, by - hw, by + hw, color='#999999', alpha=0.4, lw=0, zorder=3)
    ax.plot(fit_x, fit_y, color='#3366FF', lw=1.1, zorder=4)
    ax.set_xlim(-0.40, 7.86)
    ax.set_ylim(-0.40, 8.40)
    ax.set_xticks([0, 2, 4, 6])
    ax.set_yticks([0, 2, 4, 6, 8])
    for s in ax.spines.values():
        s.set_visible(False)
    ax.grid(axis='y', color='#E6E6E6', lw=0.9)
    ax.set_axisbelow(True)
    ax.tick_params(length=1.8, width=0.6, color='#333333', labelsize=7,
                   labelcolor='#4D4D4D', pad=1.2)
    ax.text(5.02, 7.52, label, fontsize=8.5, ha='left', va='center')
    cx = left_px + AX_W / 2
    fig.text(cx / W, 1 - 441 / H, xlabel, fontsize=9, ha='center', va='center')
    fig.text((left_px - 16) / W, 1 - 228 / H, 'English', fontsize=9,
             rotation=90, ha='center', va='center')
    fig.text(left_px / W, 1 - 23 / H, 'Distribution of Log10 Frequency',
             fontsize=11.5, ha='left', va='center')
    return ax


panel(40.0, [de_outer, de_core, de_centre], de_fit_x, de_fit_y, de_band_x, de_band_half,
      de_label, 'German')
panel(660.0, [zh_outer, zh_core, zh_centre, zh_dense], zh_fit_x, zh_fit_y, zh_band_x,
      zh_band_half, zh_label, 'Chinese')

for x0, x1 in [(5.5, 589.5), (628.5, 1208.5)]:
    fig.add_artist(Rectangle((x0 / W, -0.05), (x1 - x0) / W, 1.05 - 4.5 / H,
                             transform=fig.transFigure, fill=False, ec='black', lw=0.8))

fig.savefig('out.png', dpi=100)
